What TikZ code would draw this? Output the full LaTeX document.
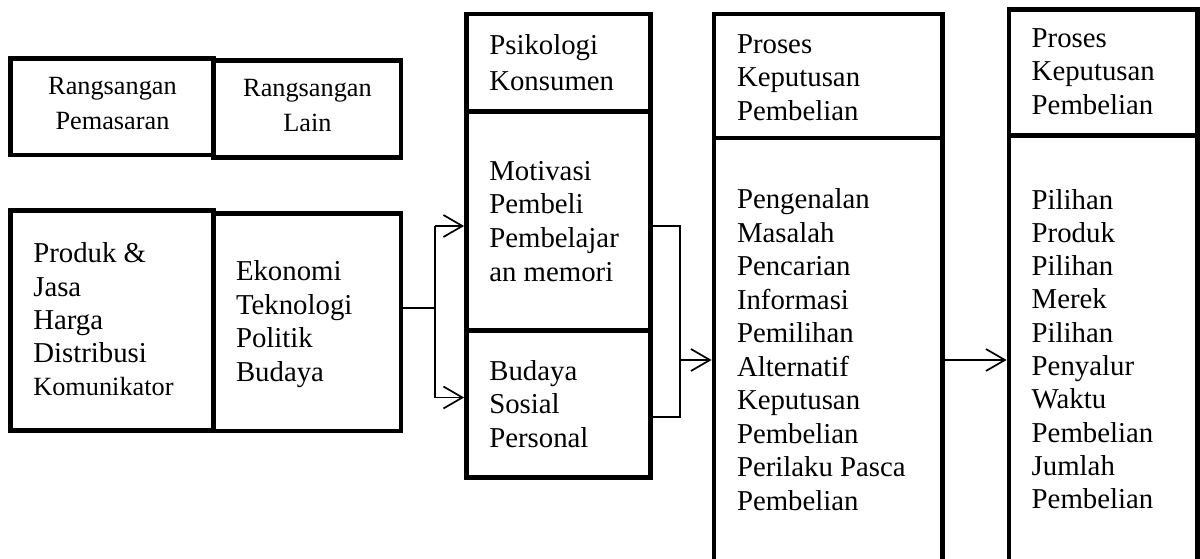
\documentclass[tikz,border=0pt]{standalone}
\usepackage{fontspec}
\setmainfont{Liberation Serif}
\usetikzlibrary{arrows.meta}
\newcommand{\linesL}[1]{\begin{tabular}[t]{@{}l@{}}#1\end{tabular}}
\newcommand{\linesC}[1]{\begin{tabular}[t]{@{}c@{}}#1\end{tabular}}
\newcommand{\bx}[5]{\node[bx, minimum width={#4-#2}, minimum height={#5-#3}] (#1) at ({(#2+#4)/2},{(#3+#5)/2}) {};}
\tikzset{
  bx/.style={draw, rectangle, line width=4.8pt, inner sep=0pt, outer sep=2.4pt},
  txt/.style={inner sep=0pt, outer sep=0pt},
  conn/.style={line width=1.7pt},
  arr/.style={line width=1.7pt, -{Straight Barb[length=19pt,width=22pt,line width=1.7pt]}},
}
\begin{document}
\begin{tikzpicture}[x=1pt,y=-1pt]
\useasboundingbox (0,0) rectangle (1200,559);
\clip (0,0) rectangle (1200,559);
\fill[white] (0,0) rectangle (1200,559);
% boxes
\bx{rp}{10.8}{58.3}{213.3}{155}
\bx{rl}{213.3}{60.8}{401}{157.5}
\bx{pj}{10.8}{210.8}{213.3}{430.8}
\bx{ek}{213.3}{213.8}{401}{431}
\bx{psi}{466.5}{14}{650.5}{111.5}
\bx{mot}{466.5}{111.5}{650.5}{330.5}
\bx{bud}{466.5}{330.5}{650.5}{477.5}
\bx{pkh}{714}{14}{942.5}{138}
\bx{pkb}{714}{138}{942.5}{590}
\bx{pph}{1009}{9.5}{1197.5}{135.5}
\bx{ppb}{1009}{135.5}{1197.5}{590}
% texts
\node[txt, anchor=base, font=\fontsize{26.3}{35.7}\selectfont] (trp) at (112.5,94.3) {\linesC{Rangsangan\\Pemasaran}};
\node[txt, anchor=base, font=\fontsize{26.3}{35}\selectfont] (trl) at (307.5,96.7) {\linesC{Rangsangan\\Lain}};
\node[txt, anchor=base west, font=\fontsize{28.8}{33.3}\selectfont] (tpj) at (33.3,262.7) {\linesL{Produk \&\\Jasa\\Harga\\Distribusi\\\fontsize{26.3}{33.3}\selectfont Komunikator}};
\node[txt, anchor=base west, font=\fontsize{28.8}{33.5}\selectfont] (tek) at (236,280.7) {\linesL{Ekonomi\\Teknologi\\Politik\\Budaya}};
\node[txt, anchor=base west, font=\fontsize{28.8}{35.7}\selectfont] (tpsi) at (489.3,55) {\linesL{Psikologi\\Konsumen}};
\node[txt, anchor=base west, font=\fontsize{28.8}{33.9}\selectfont] (tmot) at (489.3,180) {\linesL{Motivasi\\Pembeli\\Pembelajar\\an memori}};
\node[txt, anchor=base west, font=\fontsize{28.8}{33.8}\selectfont] (tbud) at (489.3,380) {\linesL{Budaya\\Sosial\\Personal}};
\node[txt, anchor=base west, font=\fontsize{28.8}{33.5}\selectfont] (tpkh) at (737,53.5) {\linesL{Proses\\Keputusan\\Pembelian}};
\node[txt, anchor=base west, font=\fontsize{28.8}{33.5}\selectfont] (tpkb) at (737,208.6) {\linesL{Pengenalan\\Masalah\\Pencarian\\Informasi\\Pemilihan\\Alternatif\\Keputusan\\Pembelian\\Perilaku Pasca\\Pembelian}};
\node[txt, anchor=base west, font=\fontsize{28.8}{33.3}\selectfont] (tpph) at (1031.7,47.5) {\linesL{Proses\\Keputusan\\Pembelian}};
\node[txt, anchor=base west, font=\fontsize{28.8}{33.3}\selectfont] (tppb) at (1031.7,209) {\linesL{Pilihan\\Produk\\Pilihan\\Merek\\Pilihan\\Penyalur\\Waktu\\Pembelian\\Jumlah\\Pembelian}};
% connectors
\coordinate (j1) at (435,308);
\coordinate (a1) at (435,226);
\coordinate (a2) at (435,397.5);
\coordinate (b1) at (680,226);
\coordinate (b2) at (680,417.3);
\coordinate (b3) at (680,360);
\coordinate (c1) at (960,360);
\draw[conn] (j1 -| ek.east) -- (j1);
\draw[conn] (a1) -- (a2);
\draw[arr] (a1) -- (a1 -| mot.west);
\draw[arr] (a2) -- (a2 -| bud.west);
\draw[conn] (b1 -| mot.east) -- (b1) -- (b2) -- (b2 -| bud.east);
\draw[arr] (b3) -- (b3 -| pkb.west);
\draw[arr] (c1 -| pkb.east) -- (c1 -| ppb.west);
\end{tikzpicture}
\end{document}
